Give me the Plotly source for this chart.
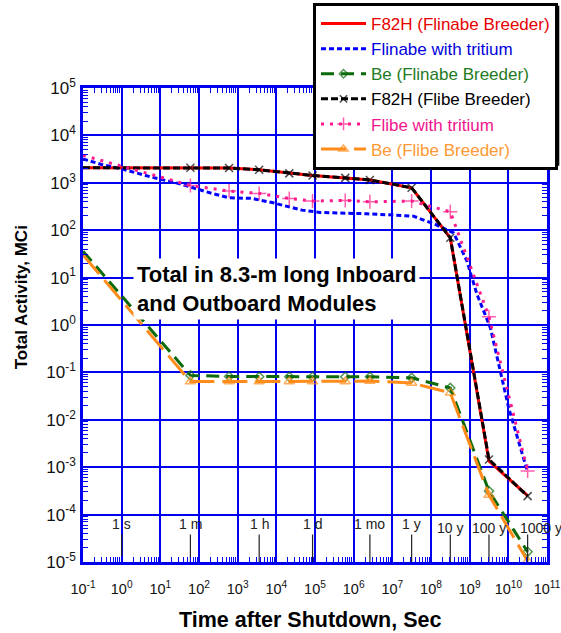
import math
import plotly.graph_objects as go

# ---------------- data ----------------
times = [0.1, 60, 600, 3600, 21600, 86400, 604800, 2.63e6, 3.156e7, 3.156e8, 3.156e9, 3.156e10]
f82h_flinabe = [2070, 2070, 2050, 1880, 1580, 1430, 1270, 1150, 785, 69, 1.35e-3, 2.5e-4]
f82h_flibe = [2070, 2070, 2050, 1880, 1580, 1430, 1270, 1150, 785, 69, 1.46e-3, 2.45e-4]
flibe_tritium = [3790, 881, 668, 598, 469, 411, 425, 397, 411, 244, 1.49, 8.3e-4]
be_flinabe = [36, 0.0865, 0.082, 0.081, 0.081, 0.081, 0.081, 0.081, 0.077, 0.047, 3.13e-4, 1.64e-5]
be_flibe = [30, 0.064, 0.064, 0.064, 0.064, 0.064, 0.064, 0.0655, 0.060, 0.037, 2.58e-4, 1.05e-5]

tritium_times = [0.1, 0.3, 1.1, 5.9, 32, 190, 600, 2300, 8300, 4.6e4, 1.35e5, 2.2e6,
                 3.5e7, 1.3e8, 3.85e8, 8.5e8, 1.55e9, 3.44e9, 1.02e10, 2.5e10, 3.1e10]
flinabe_tritium = [3190, 2440, 1920, 1320, 952, 615, 483, 469, 378, 265, 237, 222,
                   198, 132, 88, 22.3, 4.4, 0.87, 0.0179, 1.35e-3, 8.3e-4]

mark_times = [1, 60, 3600, 86400, 2.63e6, 3.156e7, 3.156e8, 3.156e9, 3.156e10]
mark_labels = ["1 s", "1 m", "1 h", "1 d", "1 mo", "1 y", "10 y", "100 y", "1000 y"]

x_exps = list(range(-1, 12))
y_exps = list(range(-5, 6))
x_ticktext = ["10<sup>%d</sup>" % e for e in x_exps]
y_ticktext = ["10<sup>%d</sup>" % e for e in y_exps]

names = ["F82H (Flinabe Breeder)", "Flinabe with tritium", "Be (Flinabe Breeder)",
         "F82H (Flibe Breeder)", "Flibe with tritium", "Be (Flibe Breeder)"]

# ---------------- styling ----------------
FONT = "Liberation Sans, Arial, sans-serif"
GRID = "#0000ee"


def lname(text, color):
    return '<span style="color:%s">%s</span>' % (color, text)


def msizes(n, s):
    return [0] + [s] * (n - 1)


fig = go.Figure()

fig.add_trace(go.Scatter(
    x=times, y=f82h_flinabe, mode="lines", name=lname(names[0], "#e60000"),
    line=dict(color="#ff0000", width=3)))

fig.add_trace(go.Scatter(
    x=tritium_times, y=flinabe_tritium, mode="lines", name=lname(names[1], "#0000dd"),
    line=dict(color="#0000ff", width=3, dash="5px,3px")))

fig.add_trace(go.Scatter(
    x=times, y=be_flinabe, mode="lines+markers", name=lname(names[2], "#1e7b1e"),
    line=dict(color="#0b6a0b", width=3, dash="13px,7px"),
    marker=dict(symbol="diamond-open", size=msizes(len(times), 7), color="#0b6a0b",
                line=dict(width=1.5, color="#0b6a0b"))))

fig.add_trace(go.Scatter(
    x=times, y=f82h_flibe, mode="lines+markers", name=lname(names[3], "#000000"),
    line=dict(color="#000000", width=3, dash="7px,3px"),
    marker=dict(symbol="x-thin-open", size=msizes(len(times), 8), color="#000000",
                line=dict(width=1.5, color="#000000"))))

fig.add_trace(go.Scatter(
    x=times, y=flibe_tritium, mode="lines+markers", name=lname(names[4], "#f0148c"),
    line=dict(color="#ff1a8c", width=3, dash="3px,6px"),
    marker=dict(symbol="cross-thin-open", size=msizes(len(times), 10), color="#ff1a8c",
                line=dict(width=1.5, color="#ff1a8c"))))

fig.add_trace(go.Scatter(
    x=times, y=be_flibe, mode="lines+markers", name=lname(names[5], "#ff9933"),
    line=dict(color="#ff8c1a", width=3, dash="25px,8px"),
    marker=dict(symbol="triangle-up-open", size=msizes(len(times), 9), color="#ff8c1a",
                line=dict(width=1.5, color="#ff8c1a")),
    cliponaxis=False))

# time reference marks at the bottom
mx, my = [], []
for t in mark_times:
    mx += [t, t, None]
    my += [1e-5, 10 ** -4.42, None]
fig.add_trace(go.Scatter(x=mx, y=my, mode="lines", showlegend=False, hoverinfo="skip",
                         line=dict(color="#222222", width=1.2)))

annotations = []
for t, lab in zip(mark_times, mark_labels):
    lt = math.log10(t)
    low = lab.endswith("0 y")
    ann = dict(x=lt, y=-4.28 if low else -4.19, xref="x", yref="y", text=lab,
               showarrow=False, font=dict(family=FONT, size=14, color="#222222"),
               xanchor="center", yanchor="middle")
    if lab == "1000 y":
        ann["x"] = 10.26
        ann["xanchor"] = "left"
    annotations.append(ann)

annotations.append(dict(
    x=0.108, y=0.577, xref="paper", yref="paper", xanchor="left", yanchor="middle",
    text="<b>Total in 8.3-m long Inboard<br>and Outboard Modules</b>", align="left",
    showarrow=False, bgcolor="white", borderpad=3,
    font=dict(family=FONT, size=22, color="black")))

annotations.append(dict(
    x=-0.133, y=0.559, xref="paper", yref="paper", text="<b>Total Activity, MCi</b>",
    textangle=-90, showarrow=False, font=dict(family=FONT, size=17, color="black"),
    xanchor="center", yanchor="middle"))

annotations.append(dict(
    x=0.489, y=-0.1224, xref="paper", yref="paper", text="<b>Time after Shutdown, Sec</b>",
    showarrow=False, font=dict(family=FONT, size=21.5, color="black"),
    xanchor="center", yanchor="middle"))

axis_common = dict(
    type="log", showgrid=True, gridcolor=GRID, gridwidth=1.6,
    showline=True, linecolor=GRID, linewidth=2.5, mirror="allticks",
    ticks="inside", ticklen=6, tickcolor=GRID, tickwidth=1.5,
    tickmode="array", zeroline=False,
    minor=dict(ticks="inside", ticklen=5, tickcolor=GRID, tickwidth=1.3,
               dtick="D1", showgrid=False),
)

fig.update_layout(
    width=561, height=633,
    margin=dict(l=83, r=14, t=88, b=71, autoexpand=False),
    paper_bgcolor="white", plot_bgcolor="white",
    font=dict(family=FONT, size=14, color="black"),
    xaxis=dict(axis_common, range=[-1, 11],
               tickvals=[10 ** e for e in x_exps], ticktext=x_ticktext,
               tickfont=dict(family=FONT, size=14.5, color="#111111"),
               ticklabelstandoff=12),
    yaxis=dict(axis_common, range=[-5, 5],
               tickvals=[10 ** e for e in y_exps], ticktext=y_ticktext,
               tickfont=dict(family=FONT, size=17, color="#111111"),
               ticklabelstandoff=1),
    legend=dict(x=313 / 561, y=1 - 3 / 633, xref="container", yref="container",
                xanchor="left", yanchor="top",
                bgcolor="white", bordercolor="black", borderwidth=3,
                font=dict(family=FONT, size=17), itemwidth=45,
                traceorder="normal"),
    annotations=annotations,
    shapes=[dict(type="rect", xref="paper", yref="paper",
                 x0=0.502, x1=1.0265, y0=0.836, y1=1.1737,
                 fillcolor="black", line=dict(width=0), layer="above")],
    showlegend=True,
)

fig.write_html("out.html")
